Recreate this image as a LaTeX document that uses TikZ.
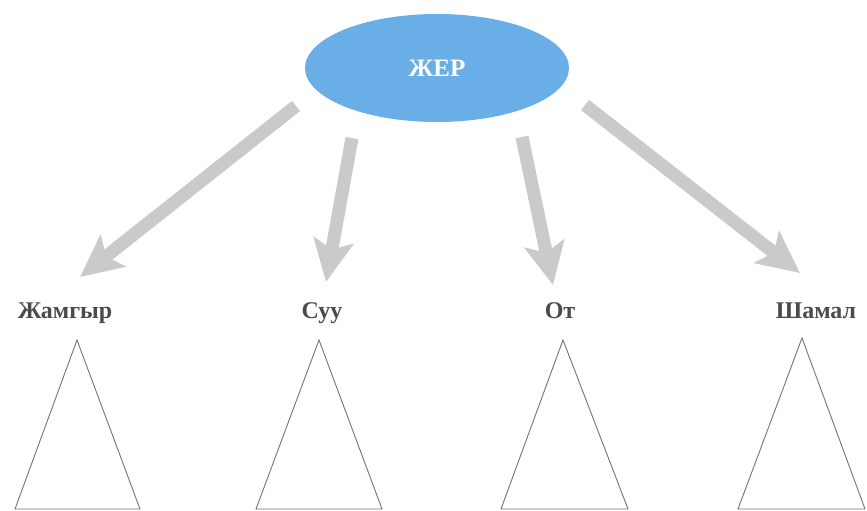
\documentclass[tikz,border=0pt]{standalone}
\usepackage{fontspec}
\setmainfont{Liberation Serif}
\usetikzlibrary{arrows.meta,shapes.geometric}
\definecolor{earthblue}{RGB}{106,174,232}
\definecolor{arrowgray}{RGB}{202,202,202}
\definecolor{labelgray}{RGB}{75,75,75}
\definecolor{trigray}{RGB}{115,115,115}
\tikzset{
  earth/.style={ellipse, fill=earthblue, draw=none, minimum width=264pt, minimum height=108pt, inner sep=0pt,
    text=white, font=\bfseries\fontsize{25}{25}\selectfont},
  biglabel/.style={anchor=base, text=labelgray, font=\bfseries\fontsize{24}{24}\selectfont, inner sep=0pt},
  fatarrow/.style={draw=arrowgray, line width=13pt, -{Stealth[length=42pt,width=40pt,inset=9pt,fill=arrowgray]}},
  tri/.style={draw=trigray, line width=0.9pt, line join=miter}
}
\begin{document}
\begin{tikzpicture}[x=1pt,y=-1pt]
\useasboundingbox (0,0) rectangle (867,511);
\node[earth] (jer) at (437,68) {ЖЕР};
% labels
\node[biglabel] (l1) at (65,318) {Жамгыр};
\node[biglabel] (l2) at (322,318) {Суу};
\node[biglabel] (l3) at (560,318) {От};
\node[biglabel] (l4) at (816,318) {Шамал};
% arrow ends
\coordinate (s1) at (296,106); \coordinate (e1) at (80,277);
\coordinate (s2) at (352,138); \coordinate (e2) at (326,282);
\coordinate (s3) at (522,137); \coordinate (e3) at (553,285);
\coordinate (s4) at (585,105); \coordinate (e4) at (800,273);
\draw[fatarrow] (s1) -- (e1);
\draw[fatarrow] (s2) -- (e2);
\draw[fatarrow] (s3) -- (e3);
\draw[fatarrow] (s4) -- (e4);
% triangles
\coordinate (t1a) at (77,340); \coordinate (t1b) at (15,509); \coordinate (t1c) at (140,509);
\coordinate (t2a) at (319,340); \coordinate (t2b) at (256,509); \coordinate (t2c) at (382,509);
\coordinate (t3a) at (563,340); \coordinate (t3b) at (501,509); \coordinate (t3c) at (628,509);
\coordinate (t4a) at (802,338); \coordinate (t4b) at (738,509); \coordinate (t4c) at (865,509);
\draw[tri] (t1a) -- (t1b) -- (t1c) -- cycle;
\draw[tri] (t2a) -- (t2b) -- (t2c) -- cycle;
\draw[tri] (t3a) -- (t3b) -- (t3c) -- cycle;
\draw[tri] (t4a) -- (t4b) -- (t4c) -- cycle;
\end{tikzpicture}
\end{document}
